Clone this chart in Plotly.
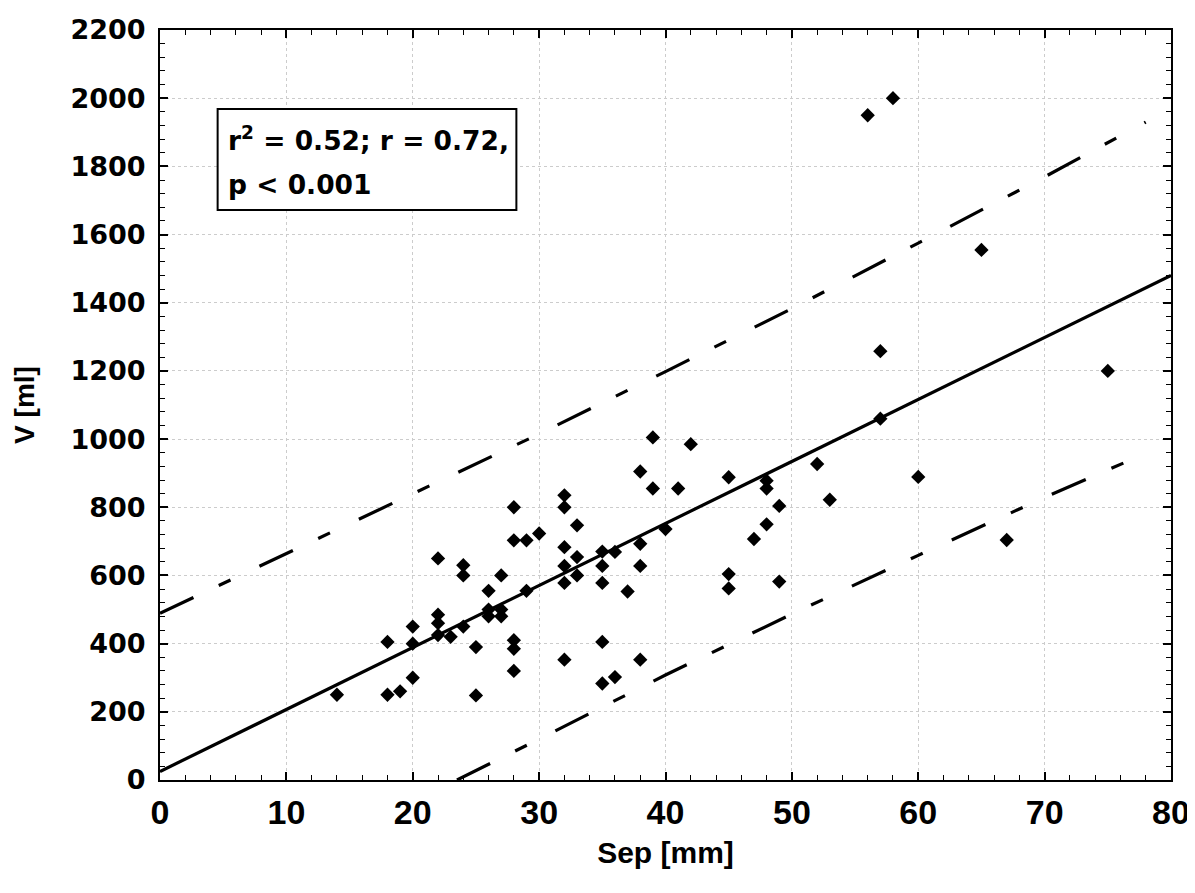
import plotly.graph_objects as go

# Scatter data
sep = [14, 18, 19, 18, 20, 20, 20, 22, 22, 22, 22, 23, 24, 24, 24, 25, 25,
       26, 26, 26, 27, 27, 27, 28, 28, 29, 30, 29, 28, 28, 28,
       32, 32, 33, 32, 33, 32, 32, 33, 35, 35, 35, 36, 37, 38, 38, 38,
       32, 35, 35, 36, 38, 39, 42, 39, 41, 45, 48, 48, 49, 52, 53, 60,
       57, 57, 48, 47, 40, 45, 45, 49, 56, 58, 65, 67, 75]
vol = [250, 250, 260, 405, 300, 450, 400, 650, 485, 460, 425, 420, 630, 600, 450, 390, 248,
       555, 500, 480, 500, 480, 600, 800, 703, 703, 723, 555, 410, 385, 320,
       835, 800, 747, 683, 654, 628, 578, 600, 670, 628, 578, 669, 553, 905, 693, 628,
       353, 405, 283, 302, 353, 1005, 985, 855, 855, 888, 878, 855, 804, 927, 822, 889,
       1060, 1258, 750, 707, 736, 604, 562, 582, 1950, 2000, 1555, 704, 1200]

# Regression line endpoints
reg_x = [0, 80]
reg_y = [25, 1480]

# Prediction band
upper_x = [0, 10, 20, 30, 40, 50, 60, 70, 78]
upper_y = [489, 665, 840, 1015, 1198, 1383, 1575, 1769, 1930]
lower_x = [23.5, 30, 40, 50, 60, 70, 78]
lower_y = [0, 120, 308, 487, 659, 829, 958]

x_ticks = [0, 10, 20, 30, 40, 50, 60, 70, 80]
y_ticks = [0, 200, 400, 600, 800, 1000, 1200, 1400, 1600, 1800, 2000, 2200]

stat_lines = ["r<sup>2</sup> = 0.52; r = 0.72,", "p &lt; 0.001"]

fig = go.Figure()

dash = "37px,28px,13px,32px"
fig.add_trace(go.Scatter(x=upper_x, y=upper_y, mode="lines",
                         line=dict(color="black", width=3.2, dash=dash),
                         showlegend=False, hoverinfo="skip"))
fig.add_trace(go.Scatter(x=lower_x, y=lower_y, mode="lines",
                         line=dict(color="black", width=3.2, dash=dash),
                         showlegend=False, hoverinfo="skip"))
fig.add_trace(go.Scatter(x=reg_x, y=reg_y, mode="lines",
                         line=dict(color="black", width=3.2),
                         showlegend=False, hoverinfo="skip"))
fig.add_trace(go.Scatter(x=sep, y=vol, mode="markers",
                         marker=dict(symbol="diamond", size=11, color="black"),
                         showlegend=False))

# Stats box
fig.add_shape(type="rect", xref="x", yref="y", x0=4.56, x1=28.2, y0=1672, y1=1968,
              line=dict(color="black", width=2), fillcolor="white", layer="above")
afont = dict(family="DejaVu Sans", size=26.5, color="black", weight="bold")
fig.add_annotation(x=5.2, y=1880, xref="x", yref="y", xanchor="left", yanchor="middle",
                   text=stat_lines[0], showarrow=False, font=afont)
fig.add_annotation(x=5.2, y=1748, xref="x", yref="y", xanchor="left", yanchor="middle",
                   text=stat_lines[1], showarrow=False, font=afont)

grid = dict(showgrid=True, gridcolor="#cccccc", griddash="dot", gridwidth=1)

fig.update_xaxes(
    range=[0, 80], tickvals=x_ticks, ticktext=[str(v) for v in x_ticks],
    showline=True, linecolor="black", linewidth=2, mirror="ticks",
    ticks="inside", ticklen=8, tickwidth=1.5, tickcolor="black",
    minor=dict(dtick=2, ticks="inside", ticklen=5, tickcolor="black", tickwidth=1),
    zeroline=False, automargin=False, ticklabelstandoff=1,
    tickfont=dict(family="Liberation Sans", size=34, color="black", weight="bold"),
    title=dict(text="Sep [mm]", standoff=12,
               font=dict(family="Liberation Sans", size=30, color="black", weight="bold")),
    **grid,
)
fig.update_yaxes(
    range=[0, 2200], tickvals=y_ticks, ticktext=[str(v) for v in y_ticks],
    showline=True, linecolor="black", linewidth=2, mirror="ticks",
    ticks="inside", ticklen=8, tickwidth=1.5, tickcolor="black",
    minor=dict(dtick=40, ticks="inside", ticklen=5, tickcolor="black", tickwidth=1),
    zeroline=False, automargin=False, ticklabelstandoff=7,
    tickfont=dict(family="DejaVu Sans", size=27, color="black", weight="bold"),
    title=dict(text="V [ml]", standoff=28,
               font=dict(family="Liberation Sans", size=28, color="black", weight="bold")),
    **grid,
)

# The page body adds an 8px offset, so the figure is sized to fit inside the window
fig.update_layout(
    width=1187, height=885,
    margin=dict(l=152, r=24, t=22, b=113),
    paper_bgcolor="white", plot_bgcolor="white",
)

fig.write_html("out.html")
